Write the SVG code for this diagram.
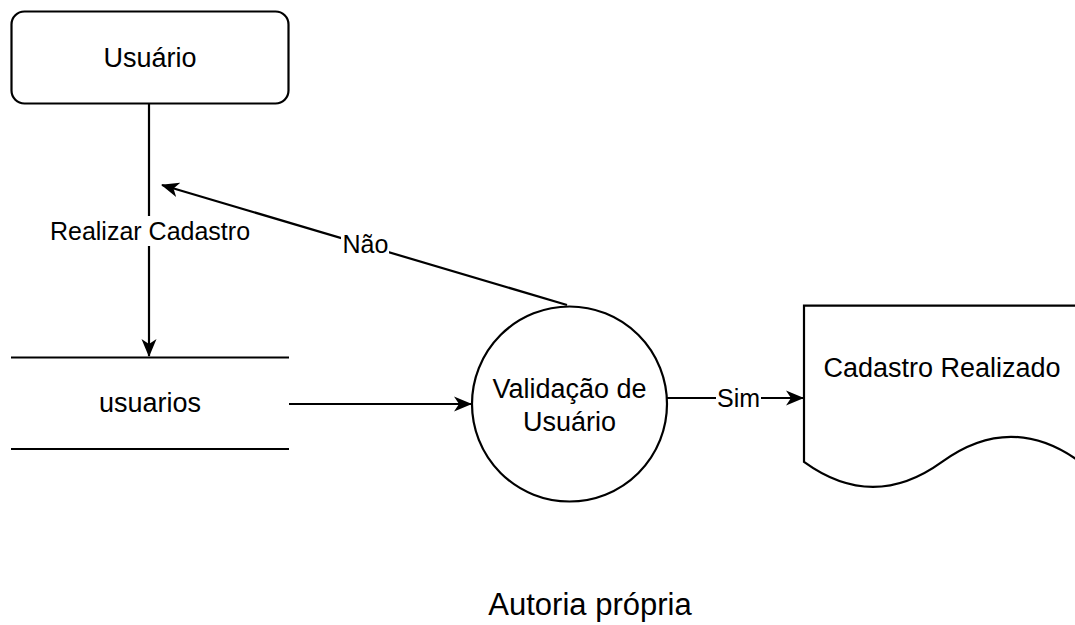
<svg xmlns="http://www.w3.org/2000/svg" width="1075" height="625" viewBox="0 0 1075 625">
  <style>
    .shape { fill: #ffffff; stroke: #000000; stroke-width: 2.2; }
    .line { fill: none; stroke: #000000; stroke-width: 2.2; }
    .node-text { font-family: "Liberation Sans", Arial, Helvetica, sans-serif; font-size: 27px; fill: #000000; text-anchor: middle; }
    .edge-text { font-family: "Liberation Sans", Arial, Helvetica, sans-serif; font-size: 25px; fill: #000000; text-anchor: middle; }
    .label-bg { fill: #ffffff; stroke: none; }
    .caption { font-family: "Liberation Sans", Arial, Helvetica, sans-serif; font-size: 31px; fill: #000000; text-anchor: middle; }
  </style>
  <defs>
    <marker id="arrow" markerUnits="userSpaceOnUse" markerWidth="18" markerHeight="16" viewBox="0 0 18 16" refX="17" refY="8" orient="auto">
      <path d="M0,0.5 L18,8 L0,15.5 L5,8 Z" fill="#000000"/>
    </marker>
  </defs>
  <rect width="1075" height="625" fill="#ffffff"/>

  <g id="connectors">
    <line class="line" x1="149" y1="104" x2="149" y2="356" marker-end="url(#arrow)"/>
    <rect class="label-bg" x="48" y="216" width="204" height="30"/>
    <text class="edge-text" x="150" y="240">Realizar Cadastro</text>

    <line class="line" x1="567" y1="305" x2="162" y2="185" marker-end="url(#arrow)"/>
    <rect class="label-bg" x="341" y="232" width="48" height="26"/>
    <text class="edge-text" x="365.5" y="253">Não</text>

    <line class="line" x1="289" y1="404" x2="471" y2="404" marker-end="url(#arrow)"/>

    <line class="line" x1="667" y1="398" x2="803" y2="398" marker-end="url(#arrow)"/>
    <rect class="label-bg" x="716" y="386" width="45" height="24"/>
    <text class="edge-text" x="738.5" y="407">Sim</text>
  </g>

  <g id="node-usuario">
    <rect class="shape" x="11.5" y="11.5" width="277" height="92" rx="13" ry="13"/>
    <text class="node-text" x="150" y="67">Usuário</text>
  </g>

  <g id="node-usuarios-store">
    <line class="line" x1="11" y1="357.5" x2="289" y2="357.5"/>
    <line class="line" x1="11" y1="449" x2="289" y2="449"/>
    <text class="node-text" x="150" y="412">usuarios</text>
  </g>

  <g id="node-validacao">
    <circle class="shape" cx="569.5" cy="404" r="97.5"/>
    <text class="node-text" x="569.5" y="397.5">Validação de</text>
    <text class="node-text" x="569.5" y="430.5">Usuário</text>
  </g>

  <g id="node-cadastro-realizado">
    <path class="shape" d="M804,305.7 H1080 V461.9 Q1011,411.8 942,461.9 Q873,511.9 804,461.9 Z"/>
    <text class="node-text" x="942" y="377">Cadastro Realizado</text>
  </g>

  <text class="caption" x="590" y="615">Autoria própria</text>
</svg>
